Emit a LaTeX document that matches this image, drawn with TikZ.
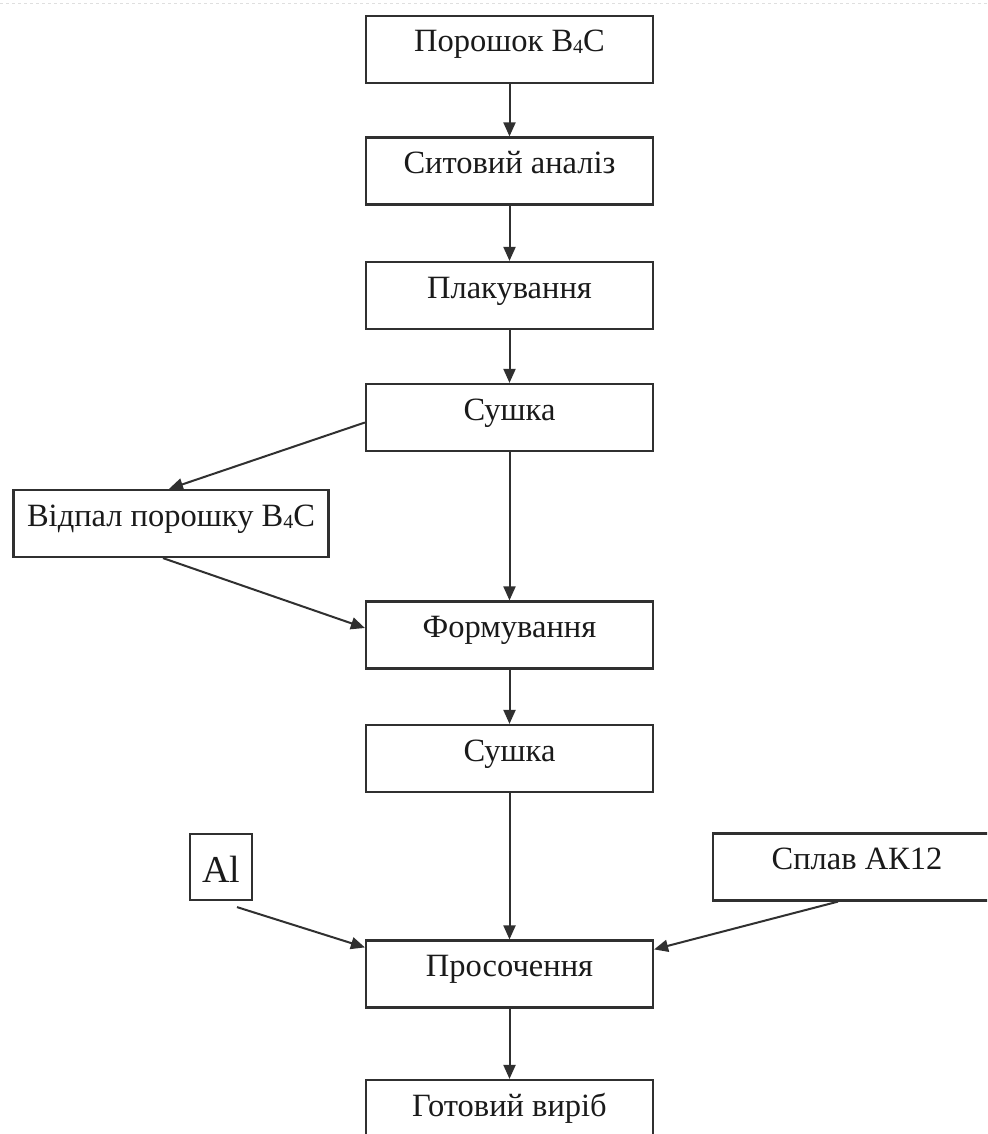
\documentclass[tikz,border=0pt]{standalone}
\usepackage{fontspec}
\setmainfont{Liberation Serif}
\usetikzlibrary{arrows.meta}
\definecolor{linec}{HTML}{303030}
\definecolor{txtc}{HTML}{1A1A1A}
\newcommand{\subfour}{\raisebox{-2pt}{\fontsize{20}{22}\selectfont 4}}
\begin{document}
\begin{tikzpicture}[x=1pt,y=-1pt,
  box/.style={draw=linec, line width=2.2pt, rectangle, inner sep=0pt,
    minimum width=287pt, text height=36pt, text depth=31pt,
    font=\fontsize{32.5}{38}\selectfont, text=txtc},
  conn/.style={draw=linec, line width=2pt, -{Triangle[length=14pt,width=12pt]}}]
\clip (0,0) rectangle (987,1134);
\fill[white] (0,0) rectangle (987,1134);
\draw[gray!25, dashed, line width=1pt] (0,4) -- (987,4);
\node[box] (b1) at (509.5,49.5) {Порошок B\subfour C};
\node[box] (b2) at (509.5,171) {Ситовий аналіз};
\node[box] (b3) at (509.5,295.5) {Плакування};
\node[box] (b4) at (509.5,417.5) {Сушка};
\node[box, minimum width=315pt] (b5) at (171,523.5) {Відпал порошку B\subfour C};
\node[box] (b6) at (509.5,635) {Формування};
\node[box] (b7) at (509.5,758.5) {Сушка};
\node[box, minimum width=62pt, text height=48pt, text depth=18pt, font=\fontsize{38}{44}\selectfont] (b8) at (221,867) {Al};
\node[box, minimum width=288pt] (b9) at (857,867) {Сплав АК12};
\node[box] (b10) at (509.5,974) {Просочення};
\node[box] (b11) at (509.5,1113.5) {Готовий виріб};
\draw[conn] (b1.south) -- (b2.north);
\draw[conn] (b2.south) -- (b3.north);
\draw[conn] (b3.south) -- (b4.north);
\draw[conn] ([yshift=-5pt]b4.west) -- ([xshift=-2pt]b5.north);
\draw[conn] (b4.south) -- (b6.north);
\draw[conn] ([xshift=-8pt]b5.south) -- ([yshift=7pt]b6.west);
\draw[conn] (b6.south) -- (b7.north);
\draw[conn] (b7.south) -- (b10.north);
\draw[conn] ([xshift=16pt,yshift=-6pt]b8.south) -- ([yshift=-8pt]b10.north west);
\draw[conn] ([xshift=-19pt]b9.south) -- ([yshift=-10pt]b10.north east);
\draw[conn] (b10.south) -- (b11.north);
\end{tikzpicture}
\end{document}
